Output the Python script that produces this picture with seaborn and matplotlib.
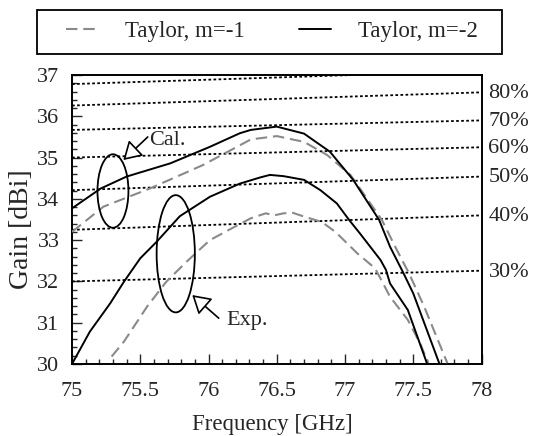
import numpy as np
import pandas as pd
import matplotlib
matplotlib.use("Agg")
import matplotlib.pyplot as plt
import seaborn as sns
from matplotlib.patches import Ellipse, Rectangle
from matplotlib.ticker import MultipleLocator, FixedLocator
import matplotlib.transforms as mtransforms

# ---------------- data ----------------
cal_m2_f = [75.0, 75.21, 75.40, 75.72, 76.01, 76.23, 76.31, 76.50, 76.70, 76.89, 77.06, 77.25, 77.33, 77.43, 77.50, 77.69]
cal_m2_g = [33.77, 34.25, 34.54, 34.86, 35.26, 35.59, 35.67, 35.75, 35.58, 35.14, 34.46, 33.49, 32.84, 32.19, 31.71, 30.02]

cal_m1_f = [75.0, 75.23, 75.57, 75.96, 76.31, 76.50, 76.70, 76.87, 77.04, 77.27, 77.38, 77.47, 77.58, 77.75]
cal_m1_g = [33.20, 33.81, 34.25, 34.82, 35.44, 35.52, 35.38, 35.06, 34.58, 33.49, 32.76, 32.19, 31.39, 30.02]

exp_m2_f = [75.0, 75.13, 75.28, 75.38, 75.50, 75.62, 75.79, 76.01, 76.23, 76.38, 76.45, 76.55, 76.70, 76.82, 76.94, 77.03, 77.11, 77.26, 77.30, 77.33, 77.46, 77.60]
exp_m2_g = [30.0, 30.78, 31.47, 31.99, 32.56, 32.96, 33.58, 34.05, 34.37, 34.52, 34.58, 34.55, 34.46, 34.21, 33.89, 33.49, 33.16, 32.52, 32.28, 31.95, 31.31, 30.02]

exp_m1_f = [75.29, 75.38, 75.55, 75.69, 75.84, 76.01, 76.15, 76.31, 76.42, 76.48, 76.55, 76.62, 76.70, 76.83, 76.93, 77.09, 77.22, 77.33, 77.46, 77.55, 77.61]
exp_m1_g = [30.18, 30.54, 31.39, 31.99, 32.48, 33.00, 33.25, 33.53, 33.65, 33.60, 33.65, 33.66, 33.57, 33.44, 33.20, 32.68, 32.32, 31.63, 31.07, 30.50, 30.02]

eff_labels = ["90%", "80%", "70%", "60%", "50%", "40%", "30%"]
eff_gain_75 = [36.78, 36.26, 35.67, 35.00, 34.21, 33.25, 32.00]
eff_gain_78 = [37.10, 36.58, 35.90, 35.25, 34.54, 33.60, 32.26]

x_ticks = [75, 75.5, 76, 76.5, 77, 77.5, 78]
x_ticklabels = ["75", "75.5", "76", "76.5", "77", "77.5", "78"]
y_ticks = [30, 31, 32, 33, 34, 35, 36, 37]

legend_labels = ["Taylor, m=-1", "Taylor, m=-2"]

# ---------------- style ----------------
sns.set_style("ticks")
plt.rcParams["font.family"] = ["Liberation Serif", "DejaVu Serif"]
plt.rcParams["font.size"] = 16

W, H = 533, 436
fig = plt.figure(figsize=(W / 100, H / 100), dpi=100)
ax = fig.add_axes([72 / W, (H - 364) / H, (481.5 - 72) / W, 289 / H])

grey = "#8a8a8a"
dash = (0, (5.5, 2.8))

# efficiency reference lines
for lab, g0, g1 in zip(eff_labels, eff_gain_75, eff_gain_78):
    ax.plot([75, 78], [g0, g1], color="black", lw=1.3, linestyle=(0, (1.5, 1.3)), zorder=1)

# curves
sns.lineplot(x=cal_m1_f, y=cal_m1_g, ax=ax, color=grey, lw=1.5, linestyle=dash, sort=False, estimator=None, label=legend_labels[0], zorder=3)
sns.lineplot(x=cal_m2_f, y=cal_m2_g, ax=ax, color="black", lw=1.4, sort=False, estimator=None, label=legend_labels[1], zorder=3)
sns.lineplot(x=exp_m1_f, y=exp_m1_g, ax=ax, color=grey, lw=1.5, linestyle=dash, sort=False, estimator=None, zorder=3)
sns.lineplot(x=exp_m2_f, y=exp_m2_g, ax=ax, color="black", lw=1.4, sort=False, estimator=None, zorder=3)

ax.set_xlim(75, 78)
ax.set_ylim(30, 37)

# efficiency labels on the right
trans = mtransforms.blended_transform_factory(ax.transAxes, ax.transData)
for lab, g1 in zip(eff_labels, eff_gain_78):
    if g1 < 37:
        ax.annotate(lab, xy=(1.0, g1), xycoords=trans, xytext=(5, -1), textcoords="offset points",
                    ha="left", va="center", fontsize=16, annotation_clip=False)

# ellipses and annotations
ax.add_patch(Ellipse((75.30, 34.19), 0.227, 1.78, fill=False, ec="black", lw=1.3, zorder=4))
ax.add_patch(Ellipse((75.76, 32.67), 0.28, 2.84, fill=False, ec="black", lw=1.3, zorder=4))

arrow_kw = dict(arrowstyle="-|>,head_length=0.5,head_width=0.3", fc="white", ec="black", lw=1.2,
                mutation_scale=22, shrinkA=0, shrinkB=0)
ax.annotate("", xy=(75.376, 34.94), xytext=(75.555, 35.50), arrowprops=arrow_kw)
ax.text(75.562, 35.42, "Cal.", ha="left", va="center", fontsize=16)
ax.annotate("", xy=(75.881, 31.67), xytext=(76.075, 31.11), arrowprops=arrow_kw)
ax.text(76.13, 31.06, "Exp.", ha="left", va="center", fontsize=16)

# ticks
ax.xaxis.set_major_locator(FixedLocator(x_ticks))
ax.set_xticklabels(x_ticklabels)
ax.xaxis.set_minor_locator(MultipleLocator(0.1))
ax.yaxis.set_major_locator(FixedLocator(y_ticks))
ax.yaxis.set_minor_locator(MultipleLocator(0.2))
ax.tick_params(which="both", direction="in", top=False, right=False, width=1.0, labelsize=16)
ax.tick_params(which="major", length=7)
ax.tick_params(which="minor", length=3.5)
ax.tick_params(axis="x", pad=13)
ax.tick_params(axis="y", pad=9)

for s in ax.spines.values():
    s.set_visible(True)
    s.set_linewidth(1.4)
    s.set_color("black")

ax.set_xlabel("Frequency [GHz]", fontsize=16.5)
ax.set_ylabel("Gain [dBi]", fontsize=20)
ax.xaxis.set_label_coords(0.49, -0.172)
ax.yaxis.set_label_coords(-0.092, 0.467)

# legend
handles, labels = ax.get_legend_handles_labels()
ax.get_legend().remove()
leg = fig.legend(handles, labels, loc="center", ncol=2,
                 bbox_to_anchor=(272 / W, 1 - 31.5 / H),
                 frameon=False, handlelength=1.4, handletextpad=1.2, columnspacing=2.35,
                 fontsize=16.5, borderpad=0.0)
fig.patches.append(Rectangle((37 / W, 1 - 54 / H), (502 - 37) / W, 44 / H, transform=fig.transFigure,
                             fill=False, ec="black", lw=1.3))

fig.savefig("out.png", dpi=100)
